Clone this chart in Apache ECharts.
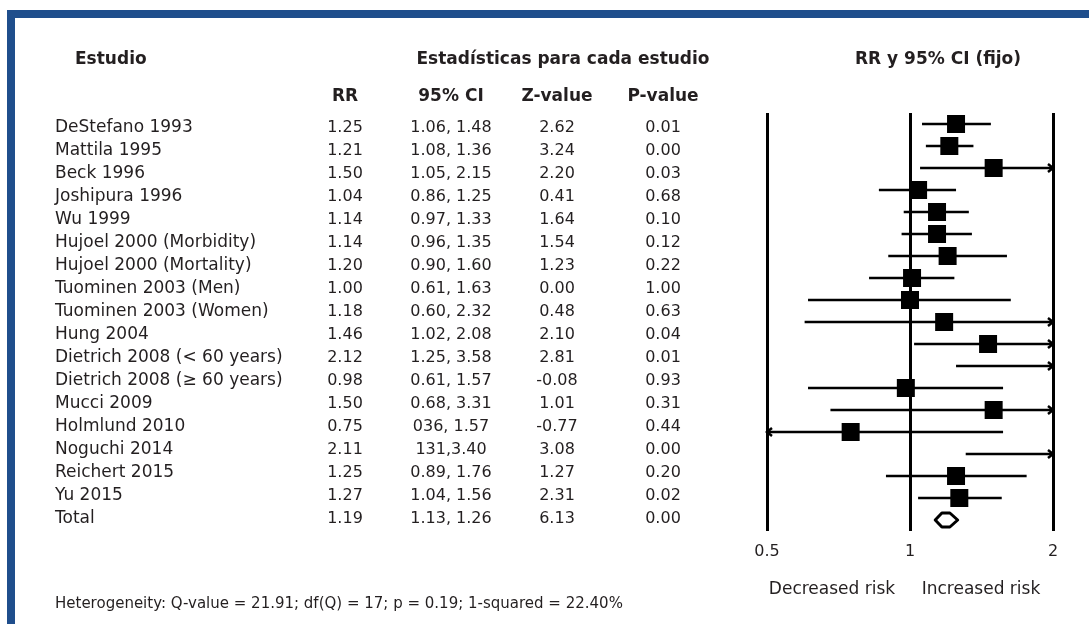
<!DOCTYPE html>
<html><head><meta charset="utf-8">
<script src="https://cdn.jsdelivr.net/npm/echarts@6/dist/echarts.min.js"></script>
<style>html,body{margin:0;padding:0;background:#fff}#c{width:1089px;height:624px}</style>
</head><body><div id="c"></div>
<script>
// ---------- table data ----------
const studies = ['DeStefano 1993','Mattila 1995','Beck 1996','Joshipura 1996','Wu 1999',
  'Hujoel 2000 (Morbidity)','Hujoel 2000 (Mortality)','Tuominen 2003 (Men)','Tuominen 2003 (Women)',
  'Hung 2004','Dietrich 2008 (< 60 years)','Dietrich 2008 (\u2265 60 years)','Mucci 2009',
  'Holmlund 2010','Noguchi 2014','Reichert 2015','Yu 2015','Total'];
const rrText = ['1.25','1.21','1.50','1.04','1.14','1.14','1.20','1.00','1.18','1.46','2.12','0.98','1.50','0.75','2.11','1.25','1.27','1.19'];
const ciText = ['1.06, 1.48','1.08, 1.36','1.05, 2.15','0.86, 1.25','0.97, 1.33','0.96, 1.35','0.90, 1.60','0.61, 1.63','0.60, 2.32','1.02, 2.08','1.25, 3.58','0.61, 1.57','0.68, 3.31','036, 1.57','131,3.40','0.89, 1.76','1.04, 1.56','1.13, 1.26'];
const zText = ['2.62','3.24','2.20','0.41','1.64','1.54','1.23','0.00','0.48','2.10','2.81','-0.08','1.01','-0.77','3.08','1.27','2.31','6.13'];
const pText = ['0.01','0.00','0.03','0.68','0.10','0.12','0.22','1.00','0.63','0.04','0.01','0.93','0.31','0.44','0.00','0.20','0.02','0.00'];
const columns = ['RR','95% CI','Z-value','P-value'];

// ---------- forest plot data (19 drawn rows; last is the pooled total) ----------
const plotRR = [1.25,1.21,1.50,1.04,1.14,1.14,1.20,1.01,1.00,1.18,1.46,2.12,0.98,1.50,0.75,2.11,1.25,1.27,1.19];
const plotLo = [1.06,1.08,1.05,0.86,0.97,0.96,0.90,0.82,0.61,0.60,1.02,1.25,0.61,0.68,0.36,1.31,0.89,1.04,1.13];
const plotHi = [1.48,1.36,2.15,1.25,1.33,1.35,1.60,1.24,1.63,2.32,2.08,3.58,1.57,3.31,1.57,3.40,1.76,1.56,1.26];
const axisMin = 0.5, axisMax = 2;

const FONT = 'DejaVu Sans';
const TXT = '#231f20';
const BLUE = '#1f4e8c';

const nRows = plotRR.length;
const totalIdx = nRows - 1;

const cols = [rrText, ciText, zText, pText];
const cells = [];
cols.forEach((arr, c) => arr.forEach((t, r) => cells.push({ value: [c, r], text: t })));

const ciData = [], sqData = [];
for (let i = 0; i < totalIdx; i++) {
  ciData.push([plotLo[i], plotHi[i], i]);
  if (plotRR[i] >= axisMin && plotRR[i] <= axisMax) sqData.push([plotRR[i], i]);
}
const totalData = [[plotLo[totalIdx], plotHi[totalIdx], totalIdx, plotRR[totalIdx]]];

const chart = echarts.init(document.getElementById('c'));
chart.setOption({
  animation: false,
  backgroundColor: '#fff',
  textStyle: { fontFamily: FONT },
  grid: [
    { left: 292, width: 424, top: 116.5, height: 414 },
    { left: 767, width: 286, top: 113, height: 418 }
  ],
  xAxis: [
    { gridIndex: 0, type: 'category', data: columns, position: 'top',
      axisLine: { show: false }, axisTick: { show: false }, splitLine: { show: false },
      axisLabel: { margin: 20, verticalAlign: 'middle', fontFamily: FONT, fontSize: 17, fontWeight: 'bold', color: TXT } },
    { gridIndex: 1, type: 'log', logBase: 2, min: axisMin, max: axisMax,
      axisLine: { show: false }, axisTick: { show: false },
      splitLine: { show: true, lineStyle: { color: '#000', width: 3 } },
      axisLabel: { margin: 21, verticalAlign: 'middle', fontFamily: FONT, fontSize: 16, color: TXT,
        formatter: v => String(Math.round(v * 100) / 100) } }
  ],
  yAxis: [
    { gridIndex: 0, type: 'category', data: studies, inverse: true,
      axisLine: { show: false }, axisTick: { show: false }, splitLine: { show: false },
      axisLabel: { align: 'left', margin: 237, fontFamily: FONT, fontSize: 17, color: TXT } },
    { gridIndex: 1, type: 'value', inverse: true, min: -0.5, max: nRows - 0.5, show: false }
  ],
  graphic: [
    { type: 'rect', shape: { x: 7, y: 10, width: 1082, height: 8 }, style: { fill: BLUE } },
    { type: 'rect', shape: { x: 7, y: 10, width: 8, height: 614 }, style: { fill: BLUE } },
    { type: 'text', x: 75, y: 59.5, style: { text: 'Estudio', font: 'bold 17px "DejaVu Sans"', fill: TXT, textAlign: 'left', textVerticalAlign: 'middle' } },
    { type: 'text', x: 563, y: 59.5, style: { text: 'Estadísticas para cada estudio', font: 'bold 17px "DejaVu Sans"', fill: TXT, textAlign: 'center', textVerticalAlign: 'middle' } },
    { type: 'text', x: 938, y: 59.5, style: { text: 'RR y 95% CI (fijo)', font: 'bold 17px "DejaVu Sans"', fill: TXT, textAlign: 'center', textVerticalAlign: 'middle' } },
    { type: 'text', x: 832, y: 590, style: { text: 'Decreased risk', font: '17px "DejaVu Sans"', fill: TXT, textAlign: 'center', textVerticalAlign: 'middle' } },
    { type: 'text', x: 981, y: 590, style: { text: 'Increased risk', font: '17px "DejaVu Sans"', fill: TXT, textAlign: 'center', textVerticalAlign: 'middle' } },
    { type: 'text', x: 55, y: 604, style: { text: 'Heterogeneity: Q-value = 21.91; df(Q) = 17; p = 0.19; 1-squared = 22.40%', font: '15px "DejaVu Sans"', fill: TXT, textAlign: 'left', textVerticalAlign: 'middle' } }
  ],
  series: [
    { type: 'custom', xAxisIndex: 0, yAxisIndex: 0, data: cells,
      renderItem(params, api) {
        const p = api.coord([api.value(0), api.value(1)]);
        return { type: 'text', x: p[0], y: p[1],
          style: { text: cells[params.dataIndex].text, font: '16px "DejaVu Sans"', fill: TXT, textAlign: 'center', textVerticalAlign: 'middle' } };
      } },
    { type: 'custom', xAxisIndex: 1, yAxisIndex: 1, data: ciData, encode: { x: [0, 1], y: 2 }, clip: false,
      renderItem(params, api) {
        const lo = api.value(0), hi = api.value(1), row = api.value(2);
        const a = api.coord([Math.max(lo, axisMin), row]);
        const b = api.coord([Math.min(hi, axisMax), row]);
        const y = a[1];
        const st = { stroke: '#000', lineWidth: 2.5, fill: null };
        const ch = [{ type: 'line', shape: { x1: a[0], y1: y, x2: b[0], y2: y }, style: st }];
        if (hi > axisMax) ch.push({ type: 'polyline', shape: { points: [[b[0] - 5, y - 4], [b[0], y], [b[0] - 5, y + 4]] }, style: st });
        if (lo < axisMin) ch.push({ type: 'polyline', shape: { points: [[a[0] + 5, y - 4], [a[0], y], [a[0] + 5, y + 4]] }, style: st });
        return { type: 'group', children: ch };
      } },
    { type: 'scatter', xAxisIndex: 1, yAxisIndex: 1, data: sqData, symbol: 'rect', symbolSize: 18,
      itemStyle: { color: '#000', opacity: 1 }, z: 5 },
    { type: 'custom', xAxisIndex: 1, yAxisIndex: 1, data: totalData, encode: { x: [0, 1, 3], y: 2 }, z: 6,
      renderItem(params, api) {
        const lo = api.value(0), hi = api.value(1), row = api.value(2), est = api.value(3);
        const a = api.coord([lo, row]), b = api.coord([hi, row]), m = api.coord([est, row]);
        const y = m[1];
        return { type: 'polygon', shape: { points: [[a[0], y], [m[0] - 4, y - 7], [m[0] + 4, y - 7], [b[0], y], [m[0] + 4, y + 7], [m[0] - 4, y + 7]] },
          style: { fill: '#fff', stroke: '#000', lineWidth: 3, lineJoin: 'round' } };
      } }
  ]
});
</script></body></html>
